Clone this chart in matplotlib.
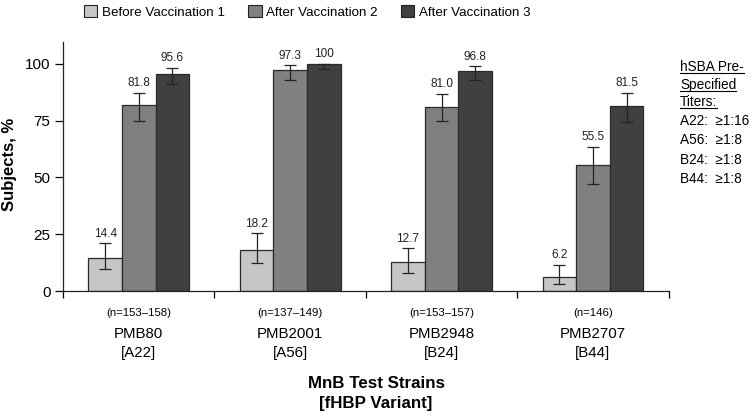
import numpy as np
import matplotlib
matplotlib.use('Agg')
import matplotlib.pyplot as plt

plt.rcParams['font.family'] = ['Liberation Sans', 'DejaVu Sans']

# data
strains = ['PMB80', 'PMB2001', 'PMB2948', 'PMB2707']
variants = ['[A22]', '[A56]', '[B24]', '[B44]']
n_labels = ['(n=153\u2013158)', '(n=137\u2013149)', '(n=153\u2013157)', '(n=146)']
series = ['Before Vaccination 1', 'After Vaccination 2', 'After Vaccination 3']
before1 = [14.4, 18.2, 12.7, 6.2]
after2 = [81.8, 97.3, 81.0, 55.5]
after3 = [95.6, 100, 96.8, 81.5]
# 95% CI bounds
before1_lo = [9.6, 12.5, 8.1, 3.3]
before1_hi = [21.0, 25.4, 18.8, 11.6]
after2_lo = [74.9, 93.0, 74.9, 47.0]
after2_hi = [87.3, 99.3, 86.9, 63.6]
after3_lo = [91.1, 97.5, 92.7, 74.3]
after3_hi = [98.2, 100, 98.9, 87.3]
value_labels = [['14.4', '18.2', '12.7', '6.2'],
                ['81.8', '97.3', '81.0', '55.5'],
                ['95.6', '100', '96.8', '81.5']]
heading = ['hSBA Pre-', 'Specified', 'Titers:']
titer_lines = ['A22:  \u22651:16', 'A56:  \u22651:8', 'B24:  \u22651:8', 'B44:  \u22651:8']

colors = ['#c6c6c6', '#808080', '#404040']
edge = '#2a2a2a'

fig = plt.figure(figsize=(7.53, 4.18), dpi=100)
ax = fig.add_axes([0.0837, 0.3038, 0.8043, 0.5957])

x = np.arange(len(strains))
w = 0.222
vals = [before1, after2, after3]
los = [before1_lo, after2_lo, after3_lo]
his = [before1_hi, after2_hi, after3_hi]
for i in range(3):
    pos = x + (i - 1) * w
    v = np.array(vals[i])
    yerr = [v - np.array(los[i]), np.array(his[i]) - v]
    ax.bar(pos, v, w, color=colors[i], edgecolor=edge, linewidth=0.9, label=series[i])
    ax.errorbar(pos, v, yerr=yerr, fmt='none', ecolor='#222222', elinewidth=0.9, capsize=4, capthick=0.9)
    for p, top, lab in zip(pos, his[i], value_labels[i]):
        ax.text(p, top + 1.6, lab, ha='center', va='bottom', fontsize=8.5, color='#222222')

ax.set_xlim(-0.5, len(strains) - 0.5)
ax.set_ylim(0, 109.6)
ax.set_yticks([0, 25, 50, 75, 100])
ax.tick_params(axis='y', direction='out', length=6, width=0.9, labelsize=11, pad=3)
ax.set_xticks(np.arange(len(strains) + 1) - 0.5)
ax.set_xticklabels([])
ax.tick_params(axis='x', direction='out', length=5, width=0.9)
for s in ['top', 'right']:
    ax.spines[s].set_visible(False)
for s in ['left', 'bottom']:
    ax.spines[s].set_linewidth(0.9)
    ax.spines[s].set_color('#222222')

tr = ax.get_xaxis_transform()
for xi, nl, st, va in zip(x, n_labels, strains, variants):
    ax.text(xi, -0.088, nl, transform=tr, ha='center', va='center', fontsize=8.2)
    ax.text(xi, -0.173, st, transform=tr, ha='center', va='center', fontsize=10.8)
    ax.text(xi, -0.249, va, transform=tr, ha='center', va='center', fontsize=10.8)

fig.text(0.012, 0.607, 'Subjects, %', rotation=90, ha='center', va='center',
         fontsize=12, fontweight='bold')
fig.text(0.4995, 0.059, 'MnB Test Strains\n[fHBP Variant]', ha='center', va='center',
         fontsize=12.2, fontweight='bold', linespacing=1.45)

# legend across the top
leg = fig.legend(loc='center left', bbox_to_anchor=(84 / 753, 1 - 12 / 418), ncol=3, frameon=False,
                 fontsize=9.6, handlelength=1.0, handleheight=1.0, columnspacing=1.75,
                 handletextpad=0.35, borderpad=0, borderaxespad=0)
for h in leg.legend_handles:
    h.set_edgecolor('#222222')
    h.set_linewidth(0.8)

# right-side note with underlined heading
fig.canvas.draw()
renderer = fig.canvas.get_renderer()
base_y = [71, 88.5, 106]
for line, by in zip(heading, base_y):
    t = fig.text(680 / 753, 1 - by / 418, line, fontsize=9.8, ha='left', va='baseline')
    bb = t.get_window_extent(renderer).transformed(fig.transFigure.inverted())
    yl = 1 - (by + 2) / 418
    fig.add_artist(plt.Line2D([bb.x0, bb.x1], [yl, yl], transform=fig.transFigure,
                              color='black', linewidth=0.8))
for k, line in enumerate(titer_lines):
    fig.text(680 / 753, 1 - (125 + k * 19.3) / 418, line, fontsize=9.8, ha='left', va='baseline')

fig.savefig('out.png', dpi=100)
